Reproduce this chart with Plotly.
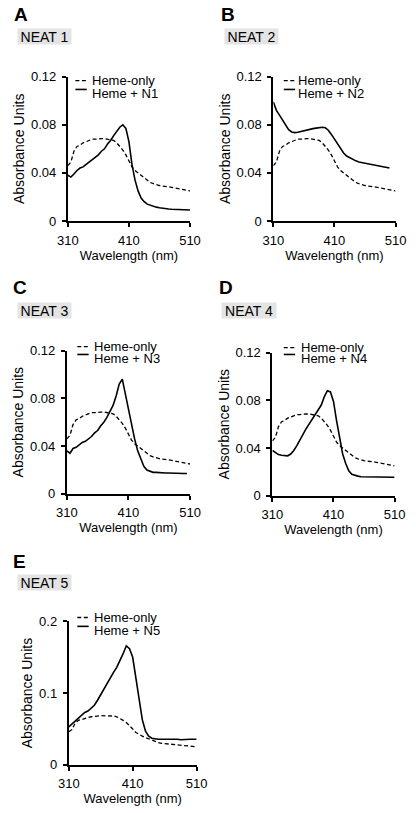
import plotly.graph_objects as go

W, H = 416, 813

wavelength = [310, 315, 320, 325, 330, 335, 340, 345, 350, 355, 360, 365, 370, 375, 380,
              385, 390, 395, 400, 405, 410, 415, 420, 425, 430, 435, 440, 445, 450, 455,
              460, 465, 470, 475, 480, 485, 490, 495, 500, 505, 510]

heme_only = [0.046, 0.049, 0.058, 0.062, 0.063, 0.065, 0.066, 0.067, 0.068, 0.068, 0.0685,
             0.0685, 0.0685, 0.068, 0.068, 0.067, 0.065, 0.062, 0.059, 0.055, 0.050, 0.045,
             0.042, 0.040, 0.038, 0.036, 0.034, 0.032, 0.031, 0.030, 0.0295, 0.029, 0.029,
             0.0285, 0.028, 0.0275, 0.027, 0.0265, 0.026, 0.0255, 0.025]

heme_n1 = [0.038, 0.0365, 0.039, 0.042, 0.044, 0.045, 0.047, 0.049, 0.051, 0.053, 0.055,
           0.058, 0.060, 0.064, 0.067, 0.071, 0.075, 0.078, 0.080, 0.077, 0.066, 0.047,
           0.034, 0.025, 0.019, 0.016, 0.014, 0.013, 0.012, 0.0115, 0.011, 0.0105, 0.010,
           0.010, 0.0098, 0.0096, 0.0095, 0.0094, 0.0093, 0.0092, 0.0091]

heme_n2 = [0.099, 0.092, 0.088, 0.084, 0.079, 0.076, 0.074, 0.0735, 0.0738, 0.0745, 0.075,
           0.0757, 0.0762, 0.0768, 0.0772, 0.0777, 0.078, 0.0775, 0.0755, 0.072, 0.068,
           0.0637, 0.060, 0.0565, 0.054, 0.0525, 0.051, 0.050, 0.049, 0.0485, 0.048,
           0.0475, 0.047, 0.0465, 0.046, 0.0455, 0.045, 0.0445, 0.044, None, None]

heme_n3 = [0.036, 0.034, 0.038, 0.039, 0.041, 0.043, 0.044, 0.046, 0.048, 0.051, 0.053,
           0.057, 0.060, 0.064, 0.069, 0.074, 0.082, 0.092, 0.096, 0.083, 0.069, 0.058,
           0.046, 0.036, 0.029, 0.023, 0.020, 0.019, 0.018, 0.018, 0.0177, 0.0175, 0.0175,
           0.0175, 0.0173, 0.0173, 0.0172, 0.0172, 0.017, 0.017, None]

heme_n4 = [0.038, 0.036, 0.0345, 0.034, 0.0335, 0.0335, 0.035, 0.038, 0.042, 0.047, 0.052,
           0.056, 0.060, 0.064, 0.067, 0.071, 0.076, 0.083, 0.088, 0.087, 0.079, 0.063,
           0.047, 0.035, 0.027, 0.021, 0.018, 0.017, 0.0165, 0.016, 0.016, 0.0158, 0.0158,
           0.0157, 0.0157, 0.0157, 0.0156, 0.0156, 0.0155, 0.0155, 0.0155]

heme_n5 = [0.053, 0.057, 0.062, 0.066, 0.070, 0.073, 0.075, 0.079, 0.083, 0.090, 0.098,
           0.107, 0.115, 0.122, 0.129, 0.136, 0.145, 0.155, 0.166, 0.162, 0.150, 0.122,
           0.090, 0.063, 0.047, 0.040, 0.037, 0.036, 0.0355, 0.0355, 0.036, 0.0355, 0.0355,
           0.036, 0.0355, 0.035, 0.0355, 0.036, 0.0355, 0.0355, 0.0355]

panel_letters = ["A", "B", "C", "D", "E"]
panel_titles = ["NEAT 1", "NEAT 2", "NEAT 3", "NEAT 4", "NEAT 5"]
series_names = ["Heme + N1", "Heme + N2", "Heme + N3", "Heme + N4", "Heme + N5"]
series_values = [heme_n1, heme_n2, heme_n3, heme_n4, heme_n5]
legend_ref = "Heme-only"

x_ticks = [310, 410, 510]
y_ticks_small = [0, 0.04, 0.08, 0.12]
y_ticktext_small = ["0", "0.04", "0.08", "0.12"]
y_ticks_big = [0, 0.1, 0.2]
y_ticktext_big = ["0", "0.1", "0.2"]

# layout in pixels: (x0, x1, ytop, ybottom)
boxes = [(60, 189, 71, 218), (277, 406, 71, 218), (59, 189, 350, 496),
         (276, 405, 352, 498), (61, 196, 626, 772)]
# panel letter: left x, centre y
letter_pos = [(1, 8), (220, 8), (0, 286), (218, 286), (0, 565)]
# title box: left x, centre y, width, height
title_box = [(6, 30.5, 53, 15), (225, 30.5, 53, 15), (6, 309.5, 53, 15),
             (222, 309.5, 54, 15), (6, 586, 53, 15)]
# legend: sample x start, text x start, row1 y, row2 y
legend_pos = [(68, 83, 75, 88), (288, 301, 75, 88), (70, 86, 346, 358),
              (288, 304, 347, 358), (70, 86, 622, 635)]

FONT = "Arial, Liberation Sans, sans-serif"


def px(x):
    return x / W


def py(y):
    return 1 - y / H


fig = go.Figure()
layout = dict(width=W, height=H, margin=dict(l=0, r=0, t=0, b=0),
              paper_bgcolor="white", plot_bgcolor="white", showlegend=False,
              font=dict(family=FONT, color="black", size=13))
annotations = []
shapes = []

for i in range(5):
    n = i + 1
    xa = "x" if n == 1 else f"x{n}"
    ya = "y" if n == 1 else f"y{n}"
    fig.add_trace(go.Scatter(x=wavelength, y=heme_only, mode="lines", xaxis=xa, yaxis=ya,
                             name=legend_ref,
                             line=dict(color="black", width=1.3, dash="4px,2.5px")))
    fig.add_trace(go.Scatter(x=wavelength, y=series_values[i], mode="lines", xaxis=xa,
                             yaxis=ya, name=series_names[i],
                             line=dict(color="black", width=1.6)))
    x0, x1, yt, yb = boxes[i]
    big = (i == 4)
    layout["xaxis" if n == 1 else f"xaxis{n}"] = dict(
        domain=[px(x0), px(x1)], anchor=ya, range=[310, 510],
        tickvals=x_ticks, ticks="outside", ticklen=4, tickwidth=1.5, tickcolor="black",
        showline=True, linecolor="black", linewidth=2, showgrid=False, zeroline=False,
        ticklabelstandoff=2, tickfont=dict(size=13, family=FONT),
        title=dict(text="Wavelength (nm)", font=dict(size=13, family=FONT), standoff=1))
    layout["yaxis" if n == 1 else f"yaxis{n}"] = dict(
        domain=[py(yb), py(yt)], anchor=xa, range=[0, 0.2] if big else [0, 0.12],
        tickvals=y_ticks_big if big else y_ticks_small,
        ticktext=y_ticktext_big if big else y_ticktext_small,
        ticks="outside", ticklen=4, tickwidth=1.5, tickcolor="black",
        showline=True, linecolor="black", linewidth=2, showgrid=False, zeroline=False,
        ticklabelstandoff=3, tickfont=dict(size=13, family=FONT),
        title=dict(text="Absorbance Units", font=dict(size=14, family=FONT), standoff=3))

    lx, ly = letter_pos[i]
    annotations.append(dict(text=f"<b>{panel_letters[i]}</b>", x=px(lx), y=py(ly),
                            xref="paper", yref="paper", xanchor="left", yanchor="middle",
                            showarrow=False, font=dict(size=19, family=FONT, color="black")))
    tx, ty, tw, th = title_box[i]
    annotations.append(dict(text=panel_titles[i], x=px(tx), y=py(ty), xref="paper",
                            yref="paper", xanchor="left", yanchor="middle", showarrow=False,
                            width=tw, height=th, align="center", valign="middle",
                            bgcolor="#e4e4e4", borderpad=0,
                            font=dict(size=14, family=FONT, color="black")))
    sx, txx, r1, r2 = legend_pos[i]
    shapes.append(dict(type="line", xref="paper", yref="paper", x0=px(sx), x1=px(sx + 12),
                       y0=py(r1), y1=py(r1),
                       line=dict(color="black", width=1.3, dash="4px,2.5px")))
    shapes.append(dict(type="line", xref="paper", yref="paper", x0=px(sx), x1=px(sx + 12),
                       y0=py(r2 - 4), y1=py(r2 - 4), line=dict(color="black", width=1.6)))
    annotations.append(dict(text=legend_ref, x=px(txx), y=py(r1), xref="paper",
                            yref="paper", xanchor="left", yanchor="middle", showarrow=False,
                            font=dict(size=13, family=FONT, color="black")))
    annotations.append(dict(text=series_names[i], x=px(txx), y=py(r2), xref="paper",
                            yref="paper", xanchor="left", yanchor="middle", showarrow=False,
                            font=dict(size=13, family=FONT, color="black")))

layout["annotations"] = annotations
layout["shapes"] = shapes
fig.update_layout(**layout)
fig.write_html("out.html", config={"displayModeBar": False},
               post_script="document.body.style.margin='0';")
